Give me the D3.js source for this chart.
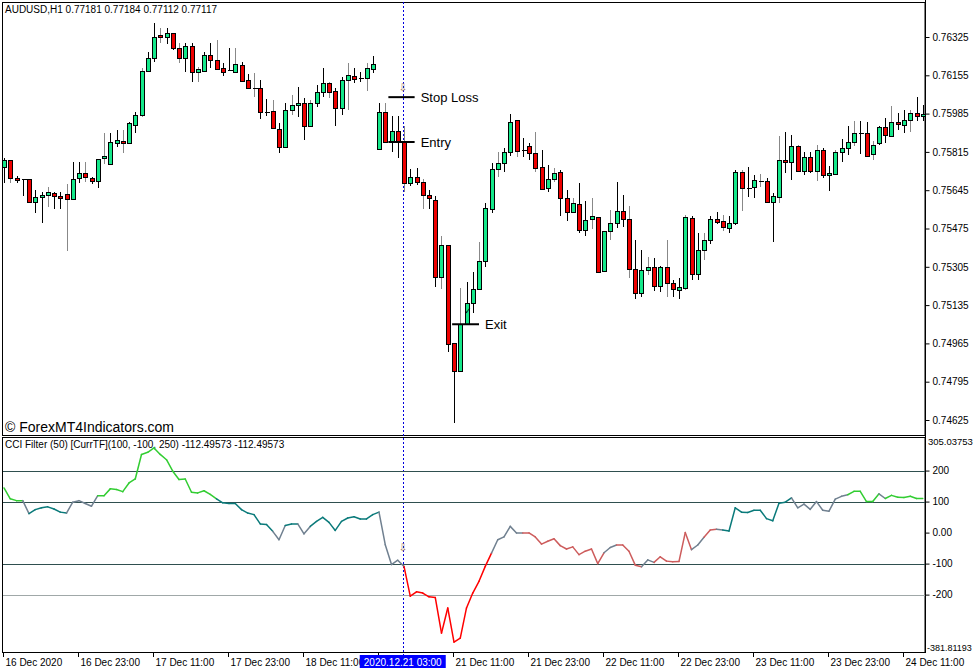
<!DOCTYPE html>
<html><head><meta charset="utf-8">
<script src="https://cdn.jsdelivr.net/npm/d3@7"></script>
<style>body{margin:0;background:#fff}svg{display:block;font-family:"Liberation Sans",Arial,sans-serif}</style>
</head><body><svg id="c" width="977" height="672"></svg>
<script>
const opens=[0.75748,0.75779,0.75699,0.75694,0.75694,0.75592,0.75614,0.75623,0.75632,0.75619,0.75628,0.75605,0.75699,0.75721,0.75699,0.75685,0.75787,0.75761,0.75854,0.75863,0.75854,0.75934,0.75978,0.76174,0.76231,0.76334,0.76325,0.76342,0.76276,0.76231,0.76285,0.76169,0.76174,0.76245,0.76223,0.76187,0.76178,0.76169,0.76200,0.76134,0.76098,0.76098,0.75992,0.75996,0.75916,0.75836,0.76001,0.76023,0.76032,0.75930,0.76032,0.76081,0.76120,0.76085,0.76009,0.76134,0.76152,0.76143,0.76143,0.76183,0.75827,0.75992,0.75859,0.75907,0.75859,0.75676,0.75703,0.75681,0.75623,0.75601,0.75259,0.75401,0.74966,0.74842,0.75050,0.75144,0.75206,0.75330,0.75561,0.75739,0.75765,0.75814,0.75956,0.75823,0.75841,0.75810,0.75748,0.75654,0.75694,0.75725,0.75610,0.75548,0.75583,0.75468,0.75517,0.75526,0.75286,0.75463,0.75499,0.75552,0.75517,0.75295,0.75188,0.75290,0.75304,0.75219,0.75304,0.75232,0.75201,0.75210,0.75521,0.75272,0.75379,0.75423,0.75517,0.75508,0.75477,0.75499,0.75725,0.75654,0.75659,0.75690,0.75685,0.75592,0.75614,0.75779,0.75770,0.75841,0.75730,0.75792,0.75730,0.75823,0.75712,0.75716,0.75814,0.75832,0.75859,0.75898,0.75898,0.75805,0.75854,0.75925,0.75885,0.75947,0.75934,0.75956,0.75987,0.75974];
const highs=[0.75787,0.75779,0.75708,0.75694,0.75694,0.75645,0.75637,0.75659,0.75637,0.75637,0.75672,0.75770,0.75770,0.75770,0.75703,0.75783,0.75898,0.75898,0.75912,0.75912,0.75947,0.75992,0.76187,0.76258,0.76387,0.76365,0.76365,0.76342,0.76298,0.76298,0.76298,0.76192,0.76258,0.76298,0.76311,0.76209,0.76276,0.76276,0.76214,0.76160,0.76165,0.76134,0.76049,0.76045,0.75943,0.76032,0.76067,0.76103,0.76054,0.76045,0.76112,0.76187,0.76125,0.76098,0.76147,0.76209,0.76187,0.76169,0.76209,0.76240,0.76032,0.76032,0.75974,0.75974,0.75930,0.75739,0.75743,0.75694,0.75645,0.75619,0.75441,0.75401,0.74966,0.75210,0.75237,0.75281,0.75415,0.75588,0.75765,0.75814,0.75832,0.75983,0.75956,0.75876,0.75854,0.75903,0.75823,0.75756,0.75743,0.75734,0.75645,0.75610,0.75676,0.75597,0.75610,0.75526,0.75463,0.75557,0.75681,0.75623,0.75574,0.75423,0.75379,0.75348,0.75343,0.75308,0.75423,0.75246,0.75255,0.75534,0.75530,0.75454,0.75454,0.75530,0.75548,0.75534,0.75530,0.75734,0.75734,0.75748,0.75712,0.75716,0.75699,0.75632,0.75885,0.75903,0.75890,0.75845,0.75814,0.75814,0.75845,0.75832,0.75752,0.75823,0.75872,0.75930,0.75952,0.75952,0.75947,0.75863,0.75930,0.75965,0.76018,0.75987,0.76001,0.76001,0.76058,0.76023];
const lows=[0.75676,0.75676,0.75676,0.75619,0.75592,0.75543,0.75499,0.75570,0.75561,0.75561,0.75375,0.75605,0.75676,0.75681,0.75672,0.75654,0.75761,0.75756,0.75836,0.75810,0.75854,0.75898,0.75970,0.76174,0.76214,0.76298,0.76294,0.76267,0.76209,0.76169,0.76125,0.76125,0.76169,0.76187,0.76183,0.76152,0.76178,0.76169,0.76125,0.76094,0.76058,0.75961,0.75974,0.75916,0.75810,0.75836,0.75978,0.75970,0.75867,0.75930,0.76014,0.76058,0.76054,0.75930,0.75978,0.76001,0.76120,0.76125,0.76085,0.76165,0.75827,0.75859,0.75814,0.75787,0.75637,0.75663,0.75668,0.75561,0.75561,0.75215,0.75206,0.74926,0.74611,0.74837,0.75050,0.75099,0.75206,0.75304,0.75543,0.75703,0.75725,0.75796,0.75792,0.75792,0.75779,0.75725,0.75645,0.75637,0.75681,0.75530,0.75508,0.75543,0.75454,0.75441,0.75472,0.75277,0.75286,0.75423,0.75477,0.75481,0.75255,0.75161,0.75170,0.75268,0.75197,0.75193,0.75170,0.75170,0.75161,0.75201,0.75246,0.75246,0.75335,0.75406,0.75494,0.75463,0.75454,0.75490,0.75552,0.75614,0.75610,0.75659,0.75588,0.75415,0.75588,0.75721,0.75690,0.75725,0.75712,0.75721,0.75685,0.75699,0.75641,0.75712,0.75770,0.75801,0.75841,0.75805,0.75792,0.75779,0.75845,0.75854,0.75881,0.75912,0.75898,0.75903,0.75952,0.75952];
const closes=[0.75779,0.75699,0.75690,0.75694,0.75592,0.75614,0.75623,0.75637,0.75619,0.75610,0.75605,0.75694,0.75721,0.75703,0.75685,0.75783,0.75796,0.75859,0.75867,0.75854,0.75943,0.75978,0.76174,0.76231,0.76325,0.76325,0.76342,0.76276,0.76231,0.76285,0.76169,0.76183,0.76245,0.76223,0.76183,0.76169,0.76178,0.76205,0.76129,0.76098,0.76098,0.75992,0.75992,0.75921,0.75836,0.76001,0.76023,0.76032,0.75930,0.76032,0.76081,0.76120,0.76081,0.76009,0.76134,0.76156,0.76138,0.76143,0.76187,0.76205,0.75992,0.75859,0.75907,0.75859,0.75676,0.75703,0.75681,0.75623,0.75610,0.75259,0.75401,0.74962,0.74842,0.75050,0.75144,0.75206,0.75330,0.75565,0.75739,0.75765,0.75814,0.75947,0.75819,0.75823,0.75810,0.75743,0.75650,0.75694,0.75721,0.75610,0.75548,0.75588,0.75468,0.75512,0.75530,0.75281,0.75463,0.75499,0.75552,0.75517,0.75295,0.75188,0.75290,0.75304,0.75219,0.75304,0.75232,0.75206,0.75215,0.75526,0.75272,0.75379,0.75423,0.75517,0.75503,0.75481,0.75499,0.75725,0.75654,0.75654,0.75690,0.75685,0.75592,0.75619,0.75779,0.75770,0.75841,0.75730,0.75792,0.75730,0.75823,0.75712,0.75721,0.75814,0.75832,0.75859,0.75898,0.75898,0.75796,0.75845,0.75925,0.75890,0.75947,0.75938,0.75956,0.75987,0.75974,0.75983];
const cci=[144,109,103,103,61,74,80,83,76,66,63,98,103,94,85,119,119,141,139,132,160,173,252,259,273,252,235,198,171,173,130,128,135,123,109,96,94,94,74,63,58,28,26,4,-23,23,28,28,-4,20,36,49,33,7,36,47,51,44,44,58,66,-39,-103,-89,-109,-205,-191,-195,-207,-209,-324,-243,-353,-340,-243,-195,-157,-109,-66,-23,-14,20,-1,-1,-1,-14,-37,-28,-20,-42,-53,-46,-71,-60,-53,-100,-65,-48,-40,-40,-60,-105,-110,-88,-96,-78,-92,-94,-93,0,-55,-40,-15,8,11,8,5,80,66,65,72,72,45,38,95,98,112,80,92,75,100,72,69,108,117,122,133,133,100,100,125,110,120,114,113,117,110,110];
const cciState="GGGGSTTTTTTSSSSSGGGGGGGGGGGGGGGGGGGTTTTTTTTTSSTTSSTTTTTTTTTTTSSSSRRRRRRRRRRRRRRSSSSSrrrrrrrrrrrrrSSrrrrSSrrrrrrSSrrSTTTTTTTTTTTSSSSSSSSSGGGGGSGGGGGGGGG";
const timeLabels=[[0,"16 Dec 2020"],[12,"16 Dec 23:00"],[24,"17 Dec 11:00"],[36,"17 Dec 23:00"],[48,"18 Dec 11:00"],[60,""],[72,"21 Dec 11:00"],[84,"21 Dec 23:00"],[96,"22 Dec 11:00"],[108,"22 Dec 23:00"],[120,"23 Dec 11:00"],[132,"23 Dec 23:00"],[144,"24 Dec 11:00"]];
const priceTicks=[0.76325,0.76155,0.75985,0.75815,0.75645,0.75475,0.75305,0.75135,0.74965,0.74795,0.74625];
const cciLevels=[200,100,-100,-200];
const cciTicks=[200,100,0,-100,-200];
const cciRange=[-381.81193,305.03753];
const levels=[{name:"Stop Loss",price:0.76058,from:61.5,to:65.7},{name:"Entry",price:0.75859,from:61.5,to:65.7},{name:"Exit",price:0.75050,from:71.7,to:76}];
const cursorBar=63.8;

const svg=d3.select("#c");
const x=d3.scaleLinear().domain([0,147]).range([4,922.75]);
const y=d3.scaleLinear().domain([0.74625,0.76325]).range([420,37]);
const yc=d3.scaleLinear().domain(cciRange).range([651,438]);
const R=925;
svg.append("rect").attr("x",2.5).attr("y",2.5).attr("width",R-2.5).attr("height",433).attr("fill","none").attr("stroke","#000");
svg.append("rect").attr("x",2.5).attr("y",437.5).attr("width",R-2.5).attr("height",215).attr("fill","none").attr("stroke","#000");
svg.append("line").attr("x1",R+0.5).attr("x2",R+0.5).attr("y1",0).attr("y2",653).attr("stroke","#000");
const pa=svg.append("g").attr("transform",`translate(${R+0.5},0)`).call(d3.axisRight(y).tickValues(priceTicks).tickFormat(d3.format(".5f")).tickSize(4).tickPadding(3));
pa.select(".domain").remove();
pa.selectAll("text").attr("font-size",10).attr("fill","#000").attr("font-family","Liberation Sans, Arial");
svg.append("text").attr("x",5).attr("y",13).attr("font-size",10).text("AUDUSD,H1  0.77181 0.77184 0.77112 0.77117");
svg.append("text").attr("x",5).attr("y",432).attr("font-size",14).text("© ForexMT4Indicators.com");
svg.append("line").attr("x1",Math.round(x(cursorBar))+0.5).attr("x2",Math.round(x(cursorBar))+0.5).attr("y1",2).attr("y2",655).attr("stroke","#0000dd").attr("stroke-dasharray","2,2");
const g=svg.append("g").attr("shape-rendering","crispEdges");
closes.forEach((c,i)=>{
  const o=opens[i],cx=Math.round(x(i))+0.5;
  g.append("line").attr("x1",cx).attr("x2",cx).attr("y1",y(highs[i])).attr("y2",y(lows[i])).attr("stroke",i%3==1?"#888":"#000");
  const t=Math.min(y(o),y(c)),h=Math.abs(y(o)-y(c));
  if(h<1.5){g.append("line").attr("x1",cx-2).attr("x2",cx+3).attr("y1",Math.round(y(c))+0.5).attr("y2",Math.round(y(c))+0.5).attr("stroke","#000");}
  else g.append("rect").attr("x",cx-2).attr("y",Math.round(t)+0.5).attr("width",4).attr("height",Math.round(h)).attr("fill",c>o?"#14e88a":"#ee0000").attr("stroke","#000");
});
levels.forEach(l=>{
  svg.append("line").attr("x1",x(l.from)).attr("x2",x(l.to)).attr("y1",y(l.price)).attr("y2",y(l.price)).attr("stroke","#000").attr("stroke-width",2);
  svg.append("text").attr("x",x(l.to)+6).attr("y",y(l.price)+5).attr("font-size",13).text(l.name);
});
svg.append("text").attr("x",x(cursorBar)-4).attr("y",y(0.76058)-6).attr("font-size",10).attr("font-family","DejaVu Sans").attr("fill","#a07050").text("⇩");
svg.append("text").attr("x",x(73.6)).attr("y",y(0.75050)-10).attr("font-size",9).attr("font-family","DejaVu Sans").text("✓");
svg.append("text").attr("x",5).attr("y",448).attr("font-size",10).text("CCI Filter (50) [CurrTF](100, -100, 250) -112.49573 -112.49573");
cciLevels.forEach(v=>svg.append("line").attr("x1",3).attr("x2",R).attr("y1",Math.round(yc(v))+0.5).attr("y2",Math.round(yc(v))+0.5).attr("stroke",v==-200?"#a0a8a8":"#2f4f4f"));
const col={G:"#32cd32",T:"#0a7a7a",S:"#708090",R:"#ff0000",r:"#cd5c5c"};
for(let i=1;i<cci.length;i++){
  svg.append("line").attr("x1",x(i-1)).attr("x2",x(i)).attr("y1",yc(cci[i-1])).attr("y2",yc(cci[i])).attr("stroke",col[cciState[i]]).attr("stroke-width",1.5).attr("stroke-linecap","round");
}
svg.append("text").attr("x",x(cursorBar)-4).attr("y",yc(-60)).attr("font-size",10).attr("font-family","DejaVu Sans").attr("fill","#a07050").text("⇩");
const ca=svg.append("g").attr("transform",`translate(${R+0.5},0)`).call(d3.axisRight(yc).tickValues(cciTicks).tickFormat(d=>d==0?"0.00":d).tickSize(4).tickPadding(3));
ca.select(".domain").remove();
ca.selectAll("text").attr("font-size",10).attr("fill","#000");
svg.append("text").attr("x",R+3).attr("y",yc(cciRange[1])+7).attr("font-size",9.5).text(cciRange[1].toFixed(5));
svg.append("text").attr("x",R+2).attr("y",yc(cciRange[0])).attr("font-size",9).text(cciRange[0].toFixed(5));
timeLabels.forEach(([b,t])=>{
  const tx=Math.round(x(b))-0.5;
  svg.append("line").attr("x1",tx).attr("x2",tx).attr("y1",653).attr("y2",657).attr("stroke","#000");
  if(t) svg.append("text").attr("x",tx+2).attr("y",666).attr("font-size",10).text(t);
});
const bx=x(cursorBar);
svg.append("rect").attr("x",bx-43).attr("y",655).attr("width",86).attr("height",13).attr("fill","#0000ff");
svg.append("text").attr("x",bx).attr("y",666).attr("text-anchor","middle").attr("font-size",10).attr("fill","#fff").text("2020.12.21 03:00");
</script></body></html>
